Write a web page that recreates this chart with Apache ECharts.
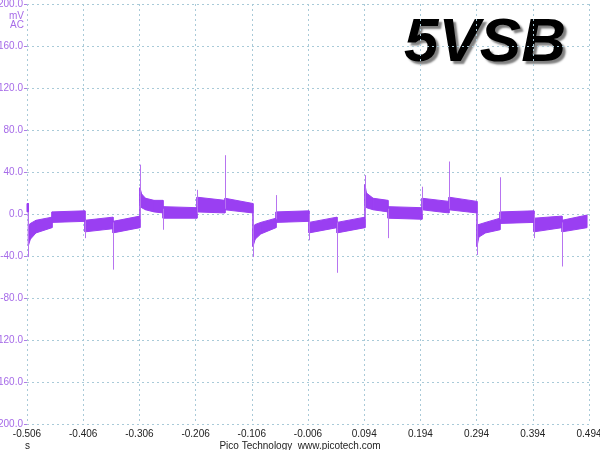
<!DOCTYPE html>
<html>
<head>
<meta charset="utf-8">
<script src="https://cdn.jsdelivr.net/npm/echarts@6/dist/echarts.min.js"></script>
<style>
  html, body { margin: 0; padding: 0; background: #fff; }
  #chart { width: 600px; height: 450px; }
</style>
</head>
<body>
<div id="chart"></div>
<script>
// tick labels
var yTicks = [-200, -160, -120, -80, -40, 0, 40, 80, 120, 160, 200];
var xStart = -0.506;   // first time label, seconds
var xEnd = 0.494;

// noise band of the trace: time (s), lower edge (mV), upper edge (mV)
var bandTime = [
  -0.506, -0.5035, -0.5035, -0.500, -0.490, -0.4615,
  -0.4615, -0.4028,
  -0.4028, -0.353,
  -0.353, -0.305,
  -0.305, -0.302, -0.295, -0.280, -0.264,
  -0.264, -0.2035,
  -0.2035, -0.1537,
  -0.1537, -0.1039,
  -0.1039, -0.100, -0.090, -0.0629,
  -0.0629, -0.0042,
  -0.0042, 0.0456,
  0.0456, 0.0954,
  0.0954, 0.098, 0.110, 0.1363,
  0.1363, 0.1969,
  0.1969, 0.2449,
  0.2449, 0.2947,
  0.2947, 0.298, 0.310, 0.3356,
  0.3356, 0.3961,
  0.3961, 0.446,
  0.446, 0.4905
];
var bandLow = [
  2, 2, -30, -24, -18, -13,
  -8, -7,
  -17, -14,
  -18, -13,
  10, 6, 4, 2, 1,
  -4, -4,
  2, 1,
  4, 1,
  -31, -24, -19, -13,
  -8, -7,
  -18, -13,
  -18, -13,
  10, 6, 4, 2,
  -4, -5,
  4, 1,
  4, 1,
  -31, -22, -18, -15,
  -9, -8,
  -17, -13,
  -17, -13
];
var bandHigh = [
  10, 10, -12, -9, -6, -3,
  2, 3,
  -6, -3,
  -7, -2,
  25, 19, 15, 13, 13,
  7, 6,
  16, 13,
  15, 10,
  -14, -10, -8, -4,
  2, 3,
  -8, -3,
  -8, -3,
  28, 20, 15, 13,
  7, 6,
  15, 12,
  16, 12,
  -10, -10, -8, -4,
  2, 3,
  -4, -2,
  -6, -1
];

// switching spikes: time (s), where they leave the band, tip value (mV)
var spikeTime = [-0.5042, -0.4028, -0.353, -0.305, -0.264, -0.2035, -0.1537, -0.1039, -0.0629,
                 -0.0042, 0.0456, 0.0954, 0.1363, 0.1969, 0.2449, 0.2947, 0.3356, 0.3961, 0.446];
var spikeBase = [2, -6, -8, -5, 5, 0, 5, 0, -5, 0, -8, -5, 5, 0, 5, 0, -5, 0, -8];
var spikeTip = [-41, -23, -53, 47, -15, 23, 56, -41, 18, -25, -56, 37, -23, 26, 50, -39, 35, -23, -50];

// the x axis runs in ms from the first label so ticks fall on round numbers
function toX(t) { return Math.round((t - xStart) * 100000) / 100; }

var bandData = bandTime.map(function(t, i) { return [toX(t), bandLow[i], bandHigh[i]]; });
var spikeLines = spikeTime.map(function(t, i) {
    return [{ coord: [toX(t), spikeBase[i]] }, { coord: [toX(t), spikeTip[i]] }];
});

var purple = '#9a3ff2';
var gridColor = '#a9cad8';

// each piece of band between two samples is a filled quad
function renderBand(params, api) {
    var i = params.dataIndex;
    if (i >= bandData.length - 1) { return null; }
    var a = bandData[i], b = bandData[i + 1];
    var pts = [
        api.coord([a[0], a[1]]), api.coord([b[0], b[1]]),
        api.coord([b[0], b[2]]), api.coord([a[0], a[2]])
    ];
    return {
        type: 'polygon',
        shape: { points: pts },
        style: { fill: purple, stroke: purple, lineWidth: 1 }
    };
}

var chart = echarts.init(document.getElementById('chart'));
chart.setOption({
    animation: false,
    backgroundColor: '#fff',
    grid: { left: 27, right: 11, top: 4, bottom: 26, outerBoundsMode: 'none', containLabel: false },
    xAxis: {
        type: 'value',
        min: 0,
        max: toX(xEnd),
        interval: 100,
        axisLine: { show: false },
        axisTick: { show: false },
        splitLine: { show: true, lineStyle: { color: gridColor, type: [2, 3], width: 1 } },
        axisLabel: {
            color: '#222',
            fontFamily: 'Liberation Sans',
            fontSize: 10,
            margin: 5,
            formatter: function(v) { return (v / 1000 + xStart).toFixed(3); }
        }
    },
    yAxis: {
        type: 'value',
        min: yTicks[0],
        max: yTicks[yTicks.length - 1],
        interval: 40,
        axisLine: { show: false },
        axisTick: { show: true, length: 3, lineStyle: { color: '#b07ee6' } },
        splitLine: { show: true, lineStyle: { color: gridColor, type: [2, 3], width: 1 } },
        axisLabel: {
            color: '#a66be8',
            fontFamily: 'Liberation Sans',
            fontSize: 10,
            margin: 4,
            formatter: function(v) { return v.toFixed(1); }
        }
    },
    series: [{
        name: 'band',
        type: 'custom',
        renderItem: renderBand,
        encode: { x: 0, y: [1, 2] },
        data: bandData,
        markLine: {
            silent: true,
            symbol: 'none',
            label: { show: false },
            lineStyle: { color: '#b774f0', type: 'solid', width: 1 },
            data: spikeLines
        }
    }],
    graphic: [{
        type: 'text',
        left: 404, top: 13,
        style: {
            text: '5VSB',
            font: 'italic bold 62px "Liberation Sans", Arial, sans-serif',
            fill: new echarts.graphic.LinearGradient(0, 0, 0, 1, [
                { offset: 0, color: '#1a1a1a' },
                { offset: 0.3, color: '#5a5a5a' },
                { offset: 0.5, color: '#a8a8a8' },
                { offset: 0.68, color: '#4a4a4a' },
                { offset: 1, color: '#0a0a0a' }
            ]),
            textShadowColor: 'rgba(0,0,0,0.5)',
            textShadowBlur: 2,
            textShadowOffsetX: 3,
            textShadowOffsetY: 3
        }
    }, {
        type: 'text', right: 576, top: 11,
        style: { text: 'mV', font: '10px "Liberation Sans"', fill: '#a66be8' }
    }, {
        type: 'text', right: 576, top: 20,
        style: { text: 'AC', font: '10px "Liberation Sans"', fill: '#a66be8' }
    }, {
        type: 'text', left: 25, top: 441,
        style: { text: 's', font: '10px "Liberation Sans"', fill: '#222' }
    }, {
        type: 'text', left: 'center', top: 441,
        style: { text: 'Pico Technology  www.picotech.com', font: '10px "Liberation Sans"', fill: '#222' }
    }]
});
</script>
</body>
</html>
